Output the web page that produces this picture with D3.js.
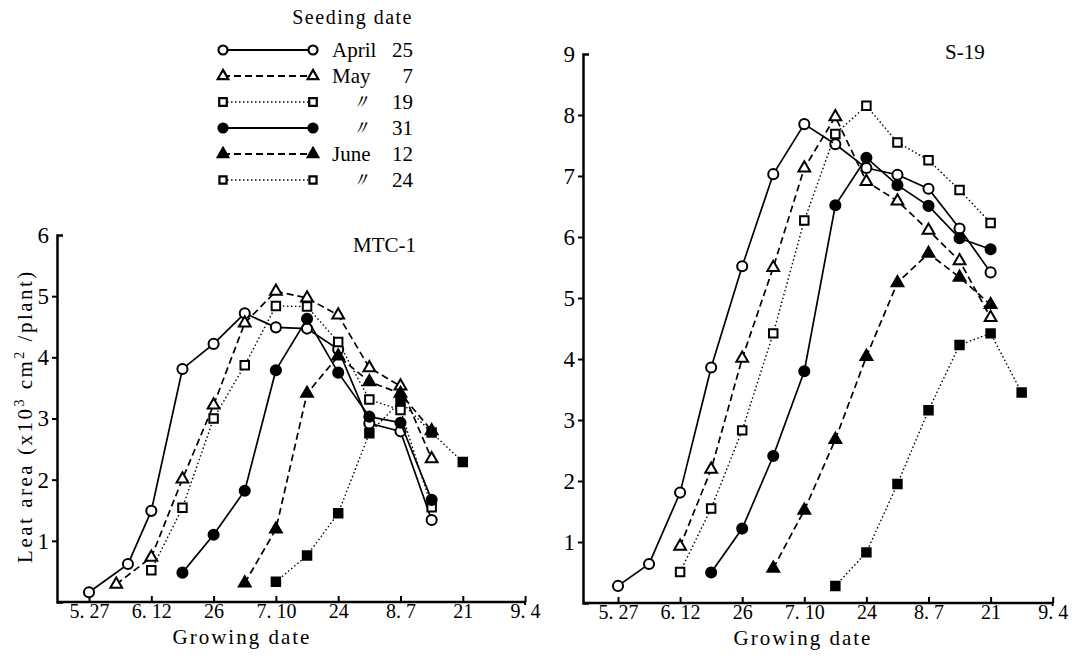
<!DOCTYPE html>
<html>
<head>
<meta charset="utf-8">
<script src="https://cdn.jsdelivr.net/npm/d3@7"></script>
<style>
body { margin: 0; background: #fff; }
</style>
</head>
<body>
<svg id="chart" width="1072" height="660"></svg>
<script>

// x axis ticks (month.day) and the printed labels
var tickDates = ["5.27", "6.12", "6.26", "7.10", "7.24", "8.7", "8.21", "9.4"];
var tickLabels = ["5. 27", "6. 12", "26", "7. 10", "24", "8. 7", "21", "9. 4"];

// legend: seeding dates
var seedMonths = ["April", "May", "\u3003", "\u3003", "June", "\u3003"];
var seedDays = ["25", "7", "19", "31", "12", "24"];

// MTC-1, leaf area x10^3 cm2/plant
var mtcApr25Dates = ["5.27", "6.6", "6.12", "6.19", "6.26", "7.3", "7.10", "7.17", "7.24", "7.31", "8.7", "8.14"];
var mtcApr25 = [0.16, 0.62, 1.49, 3.81, 4.22, 4.72, 4.49, 4.47, 4.13, 2.92, 2.79, 1.34];
var mtcMay7Dates = ["6.3", "6.12", "6.19", "6.26", "7.3", "7.10", "7.17", "7.24", "7.31", "8.7", "8.14"];
var mtcMay7 = [0.29, 0.73, 2.01, 3.22, 4.56, 5.08, 4.97, 4.69, 3.83, 3.53, 2.34];
var mtcMay19Dates = ["6.12", "6.19", "6.26", "7.3", "7.10", "7.17", "7.24", "7.31", "8.7", "8.14"];
var mtcMay19 = [0.52, 1.54, 3.0, 3.87, 4.84, 4.83, 4.25, 3.31, 3.14, 1.55];
var mtcMay31Dates = ["6.19", "6.26", "7.3", "7.10", "7.17", "7.24", "7.31", "8.7", "8.14"];
var mtcMay31 = [0.48, 1.10, 1.82, 3.79, 4.63, 3.75, 3.03, 2.93, 1.67];
var mtcJun12Dates = ["7.3", "7.10", "7.17", "7.24", "7.31", "8.7", "8.14"];
var mtcJun12 = [0.31, 1.19, 3.41, 4.02, 3.60, 3.41, 2.80];
var mtcJun24Dates = ["7.10", "7.17", "7.24", "7.31", "8.7", "8.14", "8.21"];
var mtcJun24 = [0.33, 0.76, 1.45, 2.76, 3.28, 2.77, 2.29];

// S-19
var sApr25Dates = ["5.27", "6.4", "6.12", "6.19", "6.26", "7.3", "7.10", "7.17", "7.24", "7.31", "8.7", "8.14", "8.21"];
var sApr25 = [0.28, 0.64, 1.81, 3.86, 5.52, 7.03, 7.85, 7.52, 7.13, 7.02, 6.79, 6.14, 5.42];
var sMay7Dates = ["6.12", "6.19", "6.26", "7.3", "7.10", "7.17", "7.24", "7.31", "8.7", "8.14", "8.21"];
var sMay7 = [0.93, 2.19, 4.01, 5.50, 7.13, 7.97, 6.91, 6.59, 6.11, 5.61, 4.68];
var sMay19Dates = ["6.12", "6.19", "6.26", "7.3", "7.10", "7.17", "7.24", "7.31", "8.7", "8.14", "8.21"];
var sMay19 = [0.51, 1.55, 2.83, 4.42, 6.27, 7.69, 8.15, 7.55, 7.26, 6.77, 6.23];
var sMay31Dates = ["6.19", "6.26", "7.3", "7.10", "7.17", "7.24", "7.31", "8.7", "8.14", "8.21"];
var sMay31 = [0.50, 1.22, 2.41, 3.80, 6.52, 7.30, 6.85, 6.51, 5.98, 5.80];
var sJun12Dates = ["7.3", "7.10", "7.17", "7.24", "7.31", "8.7", "8.14", "8.21"];
var sJun12 = [0.57, 1.52, 2.68, 4.04, 5.25, 5.73, 5.34, 4.89];
var sJun24Dates = ["7.17", "7.24", "7.31", "8.7", "8.14", "8.21", "8.28"];
var sJun24 = [0.28, 0.83, 1.95, 3.16, 4.23, 4.42, 3.45];


// line / marker style for each seeding date
var styles = [
  { shape: d3.symbolCircle, size: 80, filled: false, dash: null },
  { shape: d3.symbolTriangle, size: 60, filled: false, dash: "7,4" },
  { shape: d3.symbolSquare, size: 72, filled: false, dash: "1.5,2.5" },
  { shape: d3.symbolCircle, size: 80, filled: true, dash: null },
  { shape: d3.symbolTriangle, size: 60, filled: true, dash: "7,4" },
  { shape: d3.symbolSquare, size: 72, filled: true, dash: "1.5,2.5" }
];

var SERIF = "'Liberation Serif', Tinos, 'Times New Roman', 'DejaVu Serif', serif";

var monthStart = [0, 31, 59, 90, 120, 151, 181, 212, 243, 273];
var dayOf = function(s) {
  var p = s.split(".");
  return monthStart[+p[0] - 1] + (+p[1]);
};

var svg = d3.select("#chart");

var markerPath = function(st, size) {
  return d3.symbol().type(st.shape).size(size || st.size)();
};

var drawPanel = function(p, series) {

  // x: equally spaced ticks, dates mapped piecewise between them
  var tickDays = tickDates.map(dayOf);
  var tickPos = tickDates.map(function(d, i) { return p.firstTick + i * p.step; });
  var x = d3.scaleLinear().domain(tickDays).range(tickPos);
  var y = d3.scaleLinear().domain([0, p.yMax]).range([p.bottom, p.top]);

  var g = svg.append("g");

  // x axis, ticks point up into the plot
  var xAxis = d3.axisBottom(x)
    .tickValues(tickDays)
    .tickFormat(function(d, i) { return tickLabels[i]; })
    .tickSizeInner(-6)
    .tickSizeOuter(0)
    .tickPadding(2);

  var xg = g.append("g")
    .attr("transform", "translate(0," + p.bottom + ")")
    .call(xAxis)
    .attr("font-family", null);
  xg.select(".domain").remove();
  xg.selectAll(".tick line").attr("stroke", "#000").attr("stroke-width", 2);
  xg.selectAll(".tick text")
    .style("font-family", SERIF)
    .style("font-size", "20px");
  g.append("line")
    .attr("x1", p.axisX).attr("x2", tickPos[tickPos.length - 1])
    .attr("y1", p.bottom).attr("y2", p.bottom)
    .attr("stroke", "#000").attr("stroke-width", 2.5);
  // small end tick below the axis
  g.append("line")
    .attr("x1", tickPos[tickPos.length - 1]).attr("x2", tickPos[tickPos.length - 1])
    .attr("y1", p.bottom).attr("y2", p.bottom + 3)
    .attr("stroke", "#000").attr("stroke-width", 2);

  // y axis
  var yAxis = d3.axisLeft(y)
    .tickValues(d3.range(1, p.yMax + 1))
    .tickFormat(d3.format("d"))
    .tickSizeInner(5)
    .tickSizeOuter(-6)
    .tickPadding(3);

  var yg = g.append("g")
    .attr("transform", "translate(" + p.axisX + ",0)")
    .call(yAxis)
    .attr("font-family", null);
  yg.select(".domain").attr("stroke", "#000").attr("stroke-width", 2.5);
  yg.selectAll(".tick line")
    .attr("stroke", "#000").attr("stroke-width", 2)
    .filter(function(d) { return d === p.yMax; }).remove();
  yg.selectAll(".tick text")
    .style("font-family", SERIF)
    .style("font-size", "23px");

  // series: lines under the markers
  series.forEach(function(s, i) {
    var st = styles[i];
    var pts = s.dates.map(function(d, j) { return [dayOf(d), s.values[j]]; });

    var line = d3.line()
      .x(function(d) { return x(d[0]); })
      .y(function(d) { return y(d[1]); });

    g.append("path")
      .datum(pts)
      .attr("d", line)
      .attr("fill", "none")
      .attr("stroke", "#000")
      .attr("stroke-width", st.dash === "1.5,2.5" ? 1.4 : 1.7)
      .attr("stroke-dasharray", st.dash);

    g.selectAll(null)
      .data(pts)
      .enter()
      .append("path")
      .attr("d", markerPath(st))
      .attr("transform", function(d) { return "translate(" + x(d[0]) + "," + y(d[1]) + ")"; })
      .attr("fill", st.filled ? "#000" : "#fff")
      .attr("stroke", "#000")
      .attr("stroke-width", 2);
  });

  g.append("text")
    .attr("x", p.titleX).attr("y", p.titleY)
    .style("font-family", SERIF)
    .style("font-size", "21px")
    .text(p.title);

  g.append("text")
    .attr("x", p.labelX).attr("y", p.bottom + 42)
    .attr("text-anchor", "middle")
    .style("font-family", SERIF)
    .style("font-size", "21px")
    .style("letter-spacing", "2px")
    .text("Growing date");
};

drawPanel({
  axisX: 57, firstTick: 89, step: 62.3,
  top: 235, bottom: 602, yMax: 6,
  title: "MTC-1", titleX: 353, titleY: 252, labelX: 242
}, [
  { dates: mtcApr25Dates, values: mtcApr25 },
  { dates: mtcMay7Dates, values: mtcMay7 },
  { dates: mtcMay19Dates, values: mtcMay19 },
  { dates: mtcMay31Dates, values: mtcMay31 },
  { dates: mtcJun12Dates, values: mtcJun12 },
  { dates: mtcJun24Dates, values: mtcJun24 }
]);

drawPanel({
  axisX: 583, firstTick: 618, step: 62.1,
  top: 54, bottom: 603, yMax: 9,
  title: "S-19", titleX: 945, titleY: 59, labelX: 803
}, [
  { dates: sApr25Dates, values: sApr25 },
  { dates: sMay7Dates, values: sMay7 },
  { dates: sMay19Dates, values: sMay19 },
  { dates: sMay31Dates, values: sMay31 },
  { dates: sJun12Dates, values: sJun12 },
  { dates: sJun24Dates, values: sJun24 }
]);

// y axis title
var yt = svg.append("text")
  .attr("transform", "translate(32,416) rotate(-90)")
  .attr("text-anchor", "middle")
  .style("font-family", SERIF)
  .style("font-size", "21px")
  .style("letter-spacing", "2.5px");
yt.append("tspan").text("Leat  area  (x10");
yt.append("tspan").attr("dy", -8).style("font-size", "14px").text("3");
yt.append("tspan").attr("dy", 8).text("  cm");
yt.append("tspan").attr("dy", -8).style("font-size", "14px").text("2");
yt.append("tspan").attr("dy", 8).text(" /plant)");

// legend
var legend = svg.append("g");
legend.append("text")
  .attr("x", 413).attr("y", 24)
  .attr("text-anchor", "end")
  .style("font-family", SERIF)
  .style("font-size", "20px")
  .style("letter-spacing", "1.5px")
  .text("Seeding date");

for (var i = 0; i < styles.length; i++) {
  var st = styles[i];
  var ly = 50 + i * 26;
  legend.append("line")
    .attr("x1", 223).attr("x2", 313)
    .attr("y1", ly).attr("y2", ly)
    .attr("stroke", "#000")
    .attr("stroke-width", st.dash === "1.5,2.5" ? 1.4 : 1.8)
    .attr("stroke-dasharray", st.dash);
  // the printed legend shows the last entry with open squares
  var fill = (st.filled && i !== 5) ? "#000" : "#fff";
  [223, 313].forEach(function(lx) {
    legend.append("path")
      .attr("d", markerPath(st, i === 5 ? 50 : st.size * 0.8))
      .attr("transform", "translate(" + lx + "," + ly + ")")
      .attr("fill", fill)
      .attr("stroke", "#000")
      .attr("stroke-width", 2.2);
  });
  legend.append("text")
    .attr("x", 332).attr("y", ly + 7)
    .attr("dx", seedMonths[i] === "\u3003" ? 18 : 0)
    .style("font-family", SERIF)
    .style("font-size", "21px")
    .style("font-style", seedMonths[i] === "\u3003" ? "italic" : "normal")
    .text(seedMonths[i]);
  legend.append("text")
    .attr("x", 413).attr("y", ly + 7)
    .attr("text-anchor", "end")
    .style("font-family", SERIF)
    .style("font-size", "21px")
    .text(seedDays[i]);
}

</script>
</body>
</html>
